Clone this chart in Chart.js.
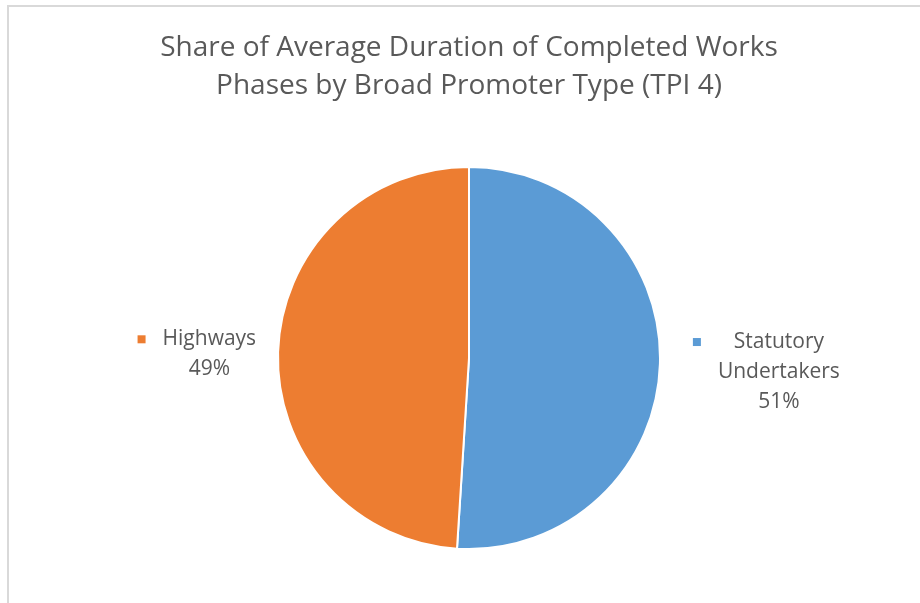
<!DOCTYPE html>
<html>
<head>
<meta charset="utf-8">
<script src="https://cdn.jsdelivr.net/npm/chart.js@4/dist/chart.umd.min.js"></script>
<style>
  html, body { margin: 0; padding: 0; background: #fff; }
  #wrap { width: 920px; height: 603px; }
</style>
</head>
<body>
<div id="wrap"><canvas id="myChart" width="920" height="603"></canvas></div>
<script>
const titleLines = ['Share of Average Duration of Completed Works', 'Phases by Broad Promoter Type (TPI 4)'];
const categories = ['Statutory Undertakers', 'Highways'];
const shares = [51, 49];
const sliceColors = ['#5B9BD5', '#ED7D31'];

const textColor = '#595959';
const fontFamily = "'Open Sans', 'Liberation Sans', sans-serif";

// light grey frame of the chart object (left and top edges are visible)
const framePlugin = {
  id: 'frame',
  beforeDraw(chart) {
    const c = chart.ctx;
    c.save();
    c.fillStyle = '#fff';
    c.fillRect(0, 0, chart.width, chart.height);
    c.strokeStyle = '#d9d9d9';
    c.lineWidth = 2;
    c.beginPath();
    c.moveTo(8, chart.height);
    c.lineTo(8, 6);
    c.lineTo(chart.width, 6);
    c.stroke();
    c.restore();
  }
};

function wrapText(c, text, maxWidth) {
  const words = text.split(' ');
  const lines = [];
  let line = '';
  words.forEach(w => {
    const test = line ? line + ' ' + w : w;
    if (line && c.measureText(test).width > maxWidth) {
      lines.push(line);
      line = w;
    } else {
      line = test;
    }
  });
  lines.push(line);
  return lines;
}

// outside-end data labels with a small legend key, like Excel
const labelPlugin = {
  id: 'sliceLabels',
  afterDatasetsDraw(chart, args, opts) {
    const c = chart.ctx;
    const meta = chart.getDatasetMeta(0);
    const data = chart.data.datasets[0].data;
    const total = data.reduce((a, b) => a + b, 0);
    c.save();
    c.font = '21px ' + fontFamily;
    c.textBaseline = 'middle';
    c.textAlign = 'center';
    meta.data.forEach((arc, i) => {
      const mid = (arc.startAngle + arc.endAngle) / 2;
      const right = Math.cos(mid) >= 0;
      const gap = right ? opts.gapRight : opts.gapLeft;
      const ax = arc.x + Math.cos(mid) * (arc.outerRadius + gap);
      const ay = arc.y + Math.sin(mid) * (arc.outerRadius + gap);
      const lines = wrapText(c, chart.data.labels[i], 150);
      lines.push(Math.round(data[i] / total * 100) + '%');
      const textW = Math.max(...lines.map(l => c.measureText(l).width));
      const lh = 30;
      const blockH = lh * lines.length;
      const top = ay - blockH / 2 + (right ? opts.yShiftRight : opts.yShiftLeft);
      const textLeft = right ? ax + 25 : ax - textW;
      const cx = textLeft + textW / 2;
      c.fillStyle = chart.data.datasets[0].backgroundColor[i];
      c.fillRect(textLeft - 25, top + lh / 2 - 4, 8, 8);
      c.fillStyle = textColor;
      lines.forEach((l, k) => c.fillText(l, cx, top + lh / 2 + k * lh));
    });
    c.restore();
  }
};

const ctx = document.getElementById('myChart').getContext('2d');
const myChart = new Chart(ctx, {
  type: 'pie',
  data: {
    labels: categories,
    datasets: [{
      data: shares,
      backgroundColor: sliceColors,
      borderColor: '#ffffff',
      borderWidth: 2
    }]
  },
  options: {
    responsive: false,
    animation: false,
    layout: { padding: { left: 18, right: 0, top: 0, bottom: 53 } },
    plugins: {
      legend: { display: false },
      tooltip: { enabled: false },
      title: {
        display: true,
        text: titleLines,
        color: textColor,
        font: { family: fontFamily, size: 28, weight: 'normal', lineHeight: 1.357 },
        padding: { top: 29, bottom: 61 }
      },
      sliceLabels: { gapLeft: 22, gapRight: 33, yShiftLeft: 3, yShiftRight: 7 }
    }
  },
  plugins: [framePlugin, labelPlugin]
});
</script>
</body>
</html>
